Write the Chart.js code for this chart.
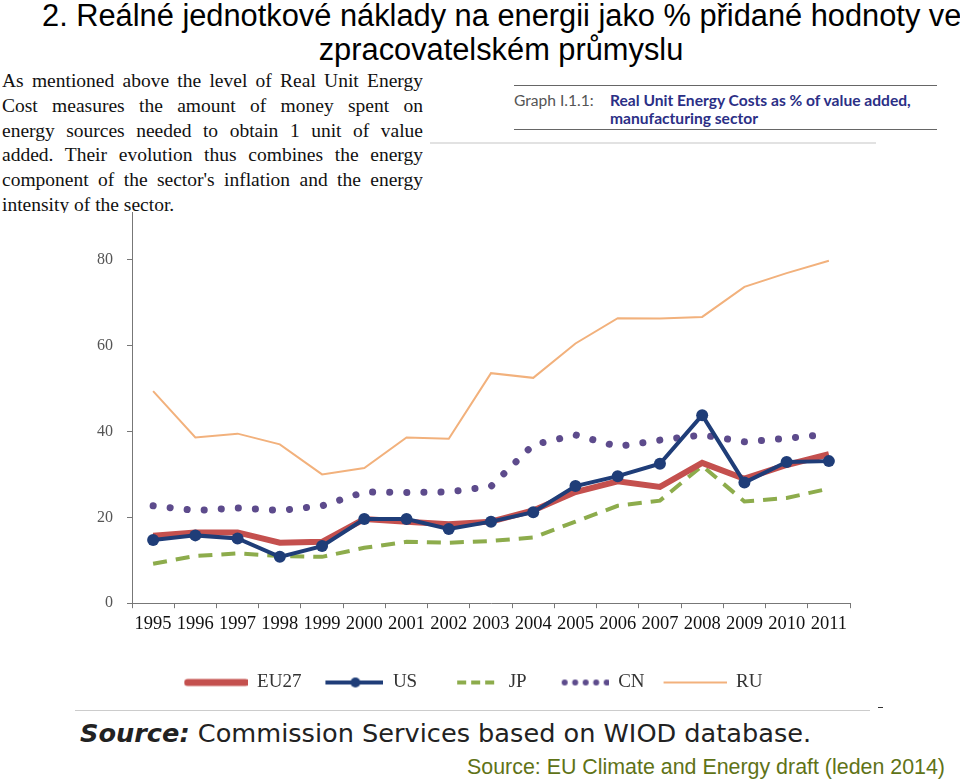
<!DOCTYPE html>
<html>
<head>
<meta charset="utf-8">
<script src="https://cdn.jsdelivr.net/npm/chart.js@4/dist/chart.umd.min.js"></script>
<style>
  body { margin: 0; background: #fff; width: 960px; height: 783px; overflow: hidden; position: relative; }
  .title { position: absolute; left: 42px; top: -1px; width: 918px; text-align: center;
    font-family: "Liberation Sans", Arial, sans-serif; font-size: 30.8px; line-height: 34px; color: #000; white-space: nowrap; }
  .para { position: absolute; left: 2px; top: 69px; width: 421px; height: 144px; overflow: hidden;
    font-family: "Liberation Serif", "Times New Roman", serif; font-size: 19.5px; line-height: 24.8px; color: #111; }
  .para div { text-align: justify; text-align-last: justify; white-space: nowrap; }
  .para div.last { text-align-last: left; }
  .ghead { position: absolute; left: 514px; top: 85px; width: 423px; height: 43px;
    border-top: 1px solid #666; border-bottom: 1px solid #666;
    font-family: "Lato", "DejaVu Sans", sans-serif; font-size: 15.6px; line-height: 18px; }
  .ghead .lbl { position: absolute; left: 0; top: 5px; color: #555; }
  .ghead .txt { position: absolute; left: 96px; top: 5px; color: #2b2f86; font-weight: bold; white-space: nowrap; }
  .faint { position: absolute; left: 430px; top: 142px; width: 446px; height: 2px; background: #e2e2e2; }
  #wrap { position: absolute; left: 90px; top: 189px; width: 780px; height: 513px; }
  .srcline { position: absolute; left: 75px; top: 710px; width: 795px; height: 1px; background: #ccc; }
  .dash { position: absolute; left: 878px; top: 707px; width: 5px; height: 1px; background: #333; }
  .src { position: absolute; left: 80px; top: 718px; font-family: "DejaVu Sans", sans-serif; font-size: 25.6px; color: #222; white-space: nowrap; }
  .src b { font-style: italic; }
  .src2 { position: absolute; left: 467px; top: 755px; font-family: "Liberation Sans", Arial, sans-serif; font-size: 21.4px; color: #5f7317; white-space: nowrap; }
</style>
</head>
<body>
<div class="title">2. Reálné jednotkové náklady na energii jako % přidané hodnoty ve<br>zpracovatelském průmyslu</div>
<div class="para">
  <div>As mentioned above the level of Real Unit Energy</div>
  <div>Cost measures the amount of money spent on</div>
  <div>energy sources needed to obtain 1 unit of value</div>
  <div>added. Their evolution thus combines the energy</div>
  <div>component of the sector's inflation and the energy</div>
  <div class="last">intensity of the sector.</div>
</div>
<div class="ghead">
  <span class="lbl">Graph I.1.1:</span>
  <span class="txt">Real Unit Energy Costs as % of value added,<br>manufacturing sector</span>
</div>
<div class="faint"></div>
<div class="srcline"></div>
<div class="dash"></div>
<div id="wrap"><canvas id="chart"></canvas></div>
<div class="src"><b>Source:</b> Commission Services based on WIOD database.</div>
<div class="src2">Source: EU Climate and Energy draft (leden 2014)</div>

<script>
const years = ["1995", "1996", "1997", "1998", "1999", "2000", "2001", "2002", "2003",
  "2004", "2005", "2006", "2007", "2008", "2009", "2010", "2011"];
const yTicks = [0, 20, 40, 60, 80];

const eu27 = [15.7, 16.5, 16.5, 14.1, 14.3, 19.6, 19.0, 18.4, 19.0, 21.6, 25.9, 28.4, 27.1, 32.7, 29.0, 32.2, 34.7];
const us = [14.7, 15.8, 15.1, 10.8, 13.3, 19.6, 19.6, 17.3, 19.0, 21.2, 27.3, 29.6, 32.5, 43.8, 28.1, 32.9, 33.1];
const jp = [9.2, 11.0, 11.6, 11.0, 10.8, 12.9, 14.3, 14.1, 14.5, 15.3, 19.0, 22.7, 23.9, 32.0, 23.7, 24.5, 26.7];
const cn = [22.7, 21.6, 22.2, 21.6, 22.7, 25.9, 25.8, 25.9, 27.2, 36.9, 39.2, 36.5, 38.0, 39.2, 37.6, 38.4, 39.4];
const ru = [49.4, 38.6, 39.5, 37.0, 30.0, 31.5, 38.6, 38.3, 53.6, 52.5, 60.5, 66.4, 66.3, 66.7, 73.7, 76.9, 79.8];

const colors = { eu: "#c4504e", us: "#1f3d78", jp: "#8dac4c", cn: "#5d4b8c", ru: "#f2b17c" };

// small canvases used as legend line samples, one per dataset
function sample(draw) {
  const c = document.createElement("canvas");
  c.width = 64; c.height = 14;
  const ctx = c.getContext("2d");
  draw(ctx);
  return c;
}
const legendSamples = [
  sample(ctx => { ctx.strokeStyle = colors.eu; ctx.lineWidth = 7; ctx.lineCap = "round";
    ctx.beginPath(); ctx.moveTo(4, 7); ctx.lineTo(62, 7); ctx.stroke(); }),
  sample(ctx => { ctx.strokeStyle = colors.us; ctx.fillStyle = colors.us; ctx.lineWidth = 4;
    ctx.beginPath(); ctx.moveTo(6, 7); ctx.lineTo(64, 7); ctx.stroke();
    ctx.beginPath(); ctx.arc(36, 7, 5, 0, Math.PI * 2); ctx.fill(); }),
  sample(ctx => { ctx.strokeStyle = colors.jp; ctx.lineWidth = 4; ctx.setLineDash([9, 5]);
    ctx.beginPath(); ctx.moveTo(22, 7); ctx.lineTo(59, 7); ctx.stroke(); }),
  sample(ctx => { ctx.fillStyle = colors.cn;
    for (let i = 0; i < 5; i++) { ctx.beginPath(); ctx.arc(20 + i * 10.5, 7, 3, 0, Math.PI * 2); ctx.fill(); } }),
  sample(ctx => { ctx.strokeStyle = colors.ru; ctx.lineWidth = 2;
    ctx.beginPath(); ctx.moveTo(1, 7); ctx.lineTo(64, 7); ctx.stroke(); })
];

const serif = "'Liberation Serif', 'Times New Roman', serif";

new Chart(document.getElementById("chart"), {
  type: "line",
  data: {
    labels: years,
    datasets: [
      { label: "EU27", data: eu27, borderColor: colors.eu, backgroundColor: colors.eu,
        borderWidth: 6, pointRadius: 0, order: 1 },
      { label: "US", data: us, borderColor: colors.us, backgroundColor: colors.us,
        borderWidth: 4, pointRadius: 6, pointBackgroundColor: colors.us, pointBorderWidth: 0, order: 0 },
      { label: "JP", data: jp, borderColor: colors.jp, backgroundColor: colors.jp,
        borderWidth: 4, borderDash: [14, 9], pointRadius: 0, order: 2 },
      { label: "CN", data: cn, borderColor: colors.cn, backgroundColor: colors.cn,
        borderWidth: 7, borderDash: [0.1, 17], borderCapStyle: "round", pointRadius: 0, order: 3 },
      { label: "RU", data: ru, borderColor: colors.ru, backgroundColor: colors.ru,
        borderWidth: 2, pointRadius: 0, order: 4 }
    ]
  },
  options: {
    responsive: true,
    maintainAspectRatio: false,
    animation: false,
    layout: { padding: { top: 4, right: 20, left: 6, bottom: 0 } },
    scales: {
      x: {
        offset: true,
        border: { color: "#777", width: 1 },
        grid: { drawOnChartArea: false, drawTicks: true, tickLength: 5, offset: true, color: "#777" },
        ticks: { autoSkip: false, maxRotation: 0, color: "#111", padding: 5,
          font: { family: serif, size: 18.5 } },
        afterFit: (s) => { s.height = 51.8; }
      },
      y: {
        min: 0,
        max: 91,
        border: { color: "#777", width: 1 },
        grid: { drawOnChartArea: false, drawTicks: true, tickLength: 5, color: "#777" },
        ticks: { stepSize: 20, color: "#555", padding: 14, font: { family: serif, size: 16 } },
        afterBuildTicks: (axis) => { axis.ticks = yTicks.map(v => ({ value: v })); },
        afterFit: (s) => { s.width = 36; }
      }
    },
    plugins: {
      legend: {
        position: "bottom",
        labels: {
          usePointStyle: true,
          pointStyleWidth: 64,
          padding: 18,
          color: "#333",
          font: { family: serif, size: 19 },
          sort: (a, b) => a.datasetIndex - b.datasetIndex,
          generateLabels: (chart) => {
            const items = Chart.defaults.plugins.legend.labels.generateLabels(chart);
            items.forEach((it) => { it.pointStyle = legendSamples[it.datasetIndex]; });
            return items;
          }
        }
      },
      tooltip: { enabled: false }
    }
  }
});
</script>
</body>
</html>
